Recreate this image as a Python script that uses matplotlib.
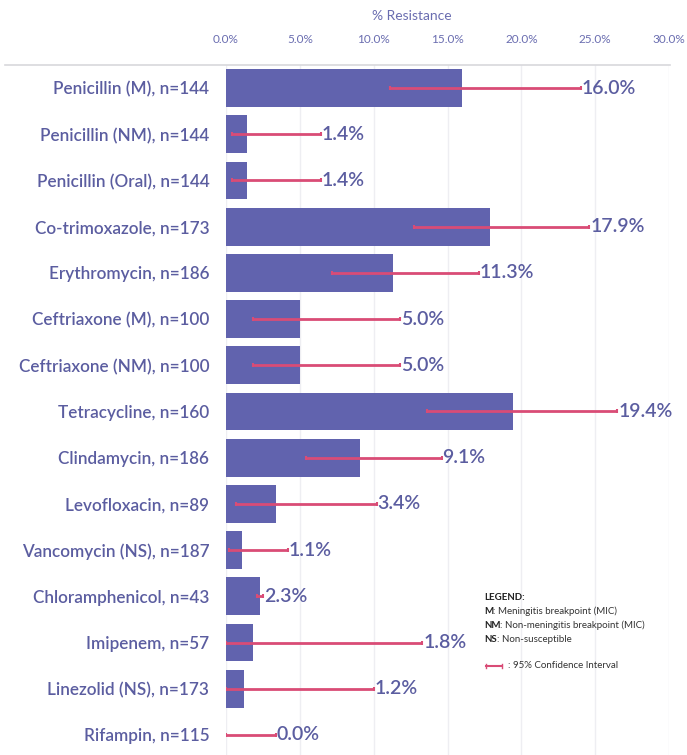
import matplotlib
matplotlib.use("Agg")
import matplotlib.pyplot as plt
from matplotlib.lines import Line2D

plt.rcParams['font.family'] = ['Lato', 'DejaVu Sans']

# data
drugs = ["Penicillin (M), n=144", "Penicillin (NM), n=144", "Penicillin (Oral), n=144",
         "Co-trimoxazole, n=173", "Erythromycin, n=186", "Ceftriaxone (M), n=100",
         "Ceftriaxone (NM), n=100", "Tetracycline, n=160", "Clindamycin, n=186",
         "Levofloxacin, n=89", "Vancomycin (NS), n=187", "Chloramphenicol, n=43",
         "Imipenem, n=57", "Linezolid (NS), n=173", "Rifampin, n=115"]
resistance = [16.0, 1.4, 1.4, 17.9, 11.3, 5.0, 5.0, 19.4, 9.1, 3.4, 1.1, 2.3, 1.8, 1.2, 0.0]
ci_low = [11.1, 0.4, 0.4, 12.7, 7.2, 1.8, 1.8, 13.6, 5.4, 0.7, 0.2, 2.1, 0.0, 0.0, 0.0]
ci_high = [24.0, 6.4, 6.4, 24.6, 17.1, 11.8, 11.8, 26.5, 14.6, 10.2, 4.2, 2.5, 13.3, 10.0, 3.4]
ticks = [0, 5, 10, 15, 20, 25, 30]

bar_col = '#6163AE'
err_col = '#D94C76'
txt_col = '#5B5DA0'

fig = plt.figure(figsize=(6.87, 7.55), dpi=100)
ax = fig.add_axes([0.329, -0.004, 0.645, 0.918])

y = list(range(len(drugs)))
ax.barh(y, resistance, height=0.82, color=bar_col, zorder=2)
xerr = [[r - lo for r, lo in zip(resistance, ci_low)],
        [hi - r for r, hi in zip(resistance, ci_high)]]
ax.errorbar(resistance, y, xerr=xerr, fmt='none', ecolor=err_col,
            elinewidth=2, capsize=1.5, capthick=1.5, zorder=3)

for yi, hi, r in zip(y, ci_high, resistance):
    ax.text(hi + 0.05, yi, f"{r:.1f}%", va='center', ha='left',
            fontsize=14, fontweight='semibold', color=txt_col)

ax.set_xlim(0, 30)
ax.set_ylim(len(drugs) - 0.5, -0.5)
ax.set_xticks(ticks)
ax.set_xticklabels([f"{t:.1f}%" for t in ticks])
ax.xaxis.tick_top()
ax.tick_params(axis='x', length=0, pad=14, labelsize=8.5, labelcolor='#6A6DB0')
ax.set_yticks(y)
ax.set_yticklabels(drugs, fontweight='semibold')
ax.tick_params(axis='y', length=0, pad=12, labelsize=12.3, labelcolor=txt_col)
ax.grid(axis='x', color='#EEEEF2', linewidth=1, zorder=0)
for s in ax.spines.values():
    s.set_visible(False)

# top rule spanning the labels too
fig.add_artist(Line2D([5 / 687, 670 / 687], [1 - 65 / 755, 1 - 65 / 755],
                      color='#D8D8DC', linewidth=1.2))

fig.text(412 / 687, 1 - 16 / 755, "% Resistance", ha='center', va='center',
         fontsize=10, color='#6A6DB0')

# legend notes
lx = 484 / 687
fig.text(lx, 1 - 597 / 755, "LEGEND:", fontsize=7, fontweight='bold',
         color='#222222', va='center')
notes = [("M", ": Meningitis breakpoint (MIC)"),
         ("NM", ": Non-meningitis breakpoint (MIC)"),
         ("NS", ": Non-susceptible")]
for i, (k, v) in enumerate(notes):
    t = fig.text(lx, 1 - (611 + 14 * i) / 755, k, fontsize=7, fontweight='bold',
                 color='#222222', va='center')
    fig.canvas.draw()
    w = t.get_window_extent().width / 687
    fig.text(lx + w, 1 - (611 + 14 * i) / 755, v, fontsize=7,
             color='#333333', va='center')

ycl = 1 - 666 / 755
fig.add_artist(Line2D([486 / 687, 502 / 687], [ycl, ycl], color=err_col, linewidth=1.5))
fig.add_artist(Line2D([486 / 687, 486 / 687], [ycl - 0.003, ycl + 0.003], color=err_col, linewidth=1))
fig.add_artist(Line2D([502 / 687, 502 / 687], [ycl - 0.003, ycl + 0.003], color=err_col, linewidth=1))
fig.text(508 / 687, ycl, ": 95% Confidence Interval", fontsize=7,
         color='#333333', va='center')

fig.savefig('out.png', dpi=100)
